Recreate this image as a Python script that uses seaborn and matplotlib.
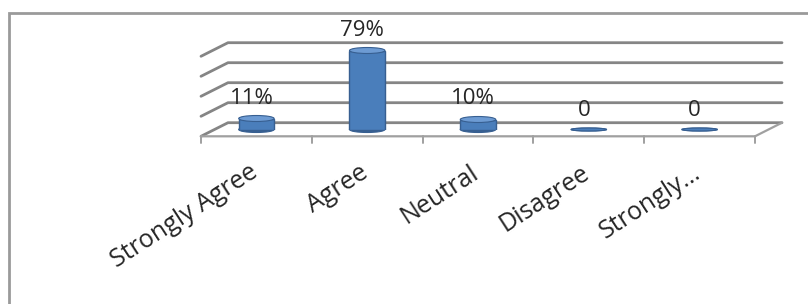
import matplotlib
matplotlib.use("Agg")
import matplotlib.pyplot as plt
import matplotlib.transforms as mtrans
import seaborn as sns
import pandas as pd
from matplotlib.patches import Ellipse, Rectangle

# chart data
categories = ["Strongly Agree", "Agree", "Neutral", "Disagree", "Strongly\u2026"]
values = [11, 79, 10, 0, 0]
value_labels = ["11%", "79%", "10%", "0", "0"]
grid_levels = [0, 20, 40, 60, 80]

W, H, DPI = 808, 304, 100
DEPTH_X, DEPTH_Y = 27, 6.8   # back wall offset from the bar plane, pixels
FRONT_Y = -6.8               # front edge of the floor, pixels
GREY = "#858585"
BLUE = "#4a7ebb"
EDGE = "#375f91"


def px_offset(ax, x, y, dx, dy):
    disp = ax.transData.transform((x, y))
    return ax.transData.inverted().transform((disp[0] + dx, disp[1] + dy))


def DrawWalls(ax):
    n = len(categories)
    x0, x1 = -0.5, n - 0.5
    for lvl in grid_levels:
        fl = px_offset(ax, x0, lvl, 0, FRONT_Y)
        bl = px_offset(ax, x0, lvl, DEPTH_X, DEPTH_Y)
        br = px_offset(ax, x1, lvl, DEPTH_X, DEPTH_Y)
        ax.plot([fl[0], bl[0], br[0]], [fl[1], bl[1], br[1]],
                color=GREY, lw=2.0, clip_on=False, zorder=1)

    # floor front edge and right side
    fl = px_offset(ax, x0, 0, 0, FRONT_Y)
    fr = px_offset(ax, x1, 0, 0, FRONT_Y)
    br = px_offset(ax, x1, 0, DEPTH_X, DEPTH_Y)
    ax.plot([fl[0], fr[0], br[0]], [fl[1], fr[1], br[1]],
            color="#a0a0a0", lw=1.6, clip_on=False, zorder=1)

    # category boundary ticks
    for i in range(n + 1):
        top = px_offset(ax, i - 0.5, 0, 0, FRONT_Y)
        bot = px_offset(ax, i - 0.5, 0, 0, FRONT_Y - 7)
        ax.plot([top[0], bot[0]], [top[1], bot[1]],
                color="#a0a0a0", lw=1.4, clip_on=False, zorder=1)


def DrawBars(ax):
    df = pd.DataFrame({"category": categories, "value": values})
    sns.barplot(data=df, x="category", y="value", color=BLUE, width=0.32,
                edgecolor=EDGE, linewidth=1.0, saturation=1, ax=ax, zorder=3)

    ax.set_xlim(-0.5, len(categories) - 0.5)
    ax.set_ylim(0, 100)

    for p, lab in zip(list(ax.patches), value_labels):
        cx = p.get_x() + p.get_width() / 2
        top = p.get_height()
        w = p.get_width()
        cap = 6 if top > 0 else 3
        ax.add_patch(Ellipse((cx, 0), w, cap, facecolor=EDGE, edgecolor=EDGE,
                             lw=0.8, zorder=2.9, clip_on=False))
        ax.add_patch(Ellipse((cx, top), w, cap,
                             facecolor="#6d9bd3" if top > 0 else BLUE,
                             edgecolor=EDGE, lw=0.8, zorder=3.1, clip_on=False))
        ax.annotate(lab, (cx, top + cap / 2), xytext=(-5, 7),
                    textcoords="offset pixels", ha="center", va="bottom",
                    fontsize=16, color="#262626", annotation_clip=False)


def main():
    sns.set_theme(style="white")
    plt.rcParams["font.family"] = ["Open Sans", "DejaVu Sans"]

    fig = plt.figure(figsize=(W / DPI, H / DPI), dpi=DPI)
    fig.patch.set_facecolor("white")

    # bar plane: zero at 129.5 px from top, 1 px per unit
    ax = fig.add_axes([201 / W, (H - 129.5) / H, 554 / W, 100 / H])
    ax.set_facecolor("none")

    DrawBars(ax)
    DrawWalls(ax)

    for s in ax.spines.values():
        s.set_visible(False)
    ax.set_yticks([])
    ax.set_xlabel("")
    ax.set_ylabel("")
    ax.tick_params(axis="x", length=0, pad=22)
    ax.set_xticks(range(len(categories)))
    ax.set_xticklabels(categories, rotation=33, ha="right", va="top",
                       rotation_mode="anchor", fontsize=18, color="#262626")
    shift = mtrans.ScaledTranslation(-8 / DPI, 0, fig.dpi_scale_trans)
    for lab in ax.get_xticklabels():
        lab.set_transform(lab.get_transform() + shift)

    # outer chart frame
    fig.add_artist(Rectangle((9 / W, -0.2), 1.5, (H - 12.5) / H + 0.2,
                             transform=fig.transFigure, fill=False,
                             edgecolor="#9a9a9a", lw=2))

    fig.savefig("out.png", dpi=DPI, facecolor="white")


if __name__ == "__main__":
    main()
